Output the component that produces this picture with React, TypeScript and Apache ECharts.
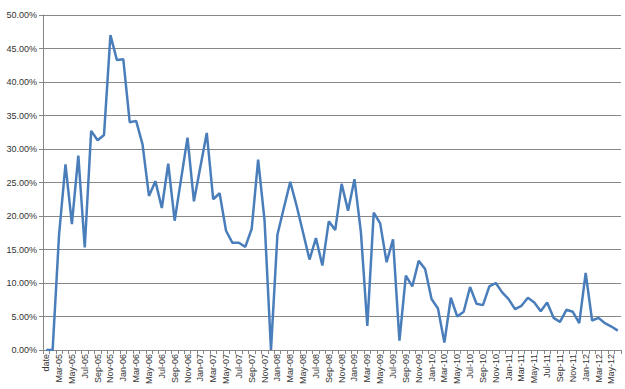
import React, { useEffect, useRef } from "react";
import * as echarts from "echarts";

const categories: string[] = [
  "date",
  "Feb-05", "Mar-05", "Apr-05", "May-05", "Jun-05", "Jul-05", "Aug-05", "Sep-05", "Oct-05", "Nov-05", "Dec-05",
  "Jan-06", "Feb-06", "Mar-06", "Apr-06", "May-06", "Jun-06", "Jul-06", "Aug-06", "Sep-06", "Oct-06", "Nov-06", "Dec-06",
  "Jan-07", "Feb-07", "Mar-07", "Apr-07", "May-07", "Jun-07", "Jul-07", "Aug-07", "Sep-07", "Oct-07", "Nov-07", "Dec-07",
  "Jan-08", "Feb-08", "Mar-08", "Apr-08", "May-08", "Jun-08", "Jul-08", "Aug-08", "Sep-08", "Oct-08", "Nov-08", "Dec-08",
  "Jan-09", "Feb-09", "Mar-09", "Apr-09", "May-09", "Jun-09", "Jul-09", "Aug-09", "Sep-09", "Oct-09", "Nov-09", "Dec-09",
  "Jan-10", "Feb-10", "Mar-10", "Apr-10", "May-10", "Jun-10", "Jul-10", "Aug-10", "Sep-10", "Oct-10", "Nov-10", "Dec-10",
  "Jan-11", "Feb-11", "Mar-11", "Apr-11", "May-11", "Jun-11", "Jul-11", "Aug-11", "Sep-11", "Oct-11", "Nov-11", "Dec-11",
  "Jan-12", "Feb-12", "Mar-12", "Apr-12", "May-12", "Jun-12",
];

// values in percent
const values: number[] = [
  0,
  0, 17.2, 27.7, 18.8, 29.0, 15.3, 32.7, 31.3, 32.1, 47.0, 43.3,
  43.4, 34.0, 34.2, 30.7, 23.0, 25.2, 21.2, 27.8, 19.3, 25.5, 31.7, 22.2,
  27.3, 32.4, 22.5, 23.4, 17.8, 16.0, 16.0, 15.4, 18.1, 28.4, 19.3, 0,
  17.2, 21.2, 25.1, 21.5, 17.5, 13.5, 16.7, 12.6, 19.2, 17.9, 24.8, 20.8,
  25.5, 17.6, 3.6, 20.5, 18.9, 13.1, 16.5, 1.4, 11.1, 9.5, 13.3, 12.1,
  7.6, 6.2, 1.1, 7.8, 5.0, 5.7, 9.4, 6.9, 6.7, 9.5, 10.0, 8.6,
  7.6, 6.1, 6.6, 7.8, 7.1, 5.8, 7.1, 4.8, 4.2, 6.0, 5.7, 4.0,
  11.5, 4.4, 4.8, 4.0, 3.5, 2.9,
];

const yMin = 0;
const yMax = 50;
const yStep = 5;

export default function App() {
  const ref = useRef<HTMLDivElement>(null);

  useEffect(() => {
    document.body.style.margin = "0";
    if (!ref.current) return;
    const chart = echarts.init(ref.current, null, { renderer: "svg" });
    const font = "'Liberation Sans', Arial, sans-serif";
    chart.setOption({
      animation: false,
      backgroundColor: "#ffffff",
      grid: { left: 43, right: 4, top: 15, bottom: 39, containLabel: false },
      xAxis: {
        type: "category",
        data: categories,
        boundaryGap: true,
        axisLine: { show: true, lineStyle: { color: "#868686", width: 1 } },
        axisTick: { show: true, interval: 0, length: 4, lineStyle: { color: "#868686" } },
        axisLabel: {
          interval: 1,
          rotate: 90,
          fontSize: 9,
          fontFamily: font,
          color: "#333333",
          margin: 4,
        },
        splitLine: { show: false },
      },
      yAxis: {
        type: "value",
        min: yMin,
        max: yMax,
        interval: yStep,
        axisLine: { show: true, lineStyle: { color: "#868686", width: 1 } },
        axisTick: { show: true, length: 4, lineStyle: { color: "#868686" } },
        axisLabel: {
          formatter: (v: number) => v.toFixed(2) + "%",
          fontSize: 9,
          fontFamily: font,
          color: "#333333",
          margin: 6,
        },
        splitLine: { show: true, lineStyle: { color: "#868686", width: 1 } },
      },
      series: [
        {
          type: "line",
          data: values,
          symbol: "none",
          smooth: false,
          lineStyle: { color: "#4A7EBB", width: 2.5 },
          itemStyle: { color: "#4A7EBB" },
        },
      ],
    });
    return () => chart.dispose();
  }, []);

  return <div ref={ref} style={{ width: 625, height: 389 }} />;
}
